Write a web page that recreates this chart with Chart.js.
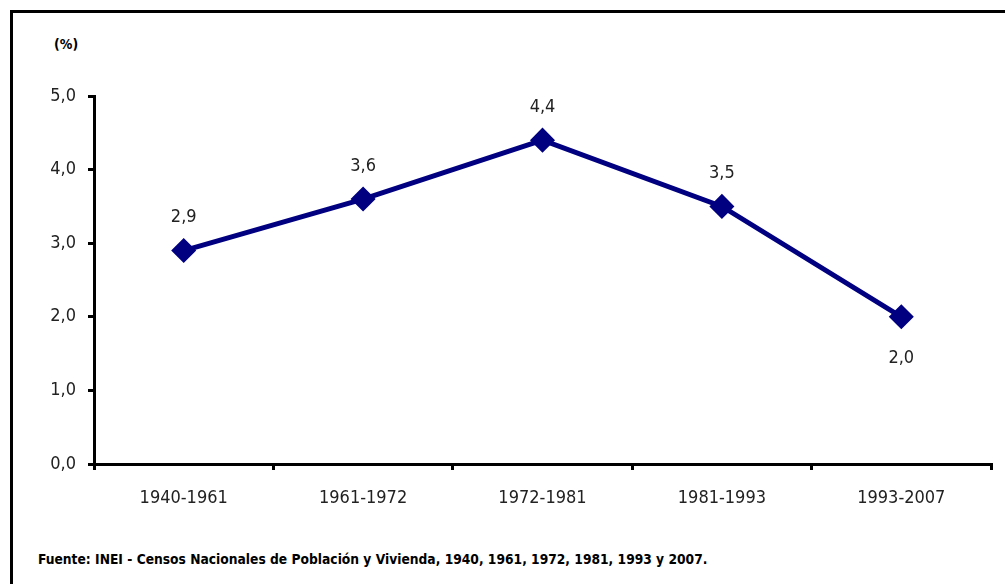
<!DOCTYPE html>
<html>
<head>
<meta charset="utf-8">
<script src="https://cdn.jsdelivr.net/npm/chart.js@4/dist/chart.umd.min.js"></script>
<style>
  html, body { margin: 0; padding: 0; background: #fff; }
  #wrap { position: relative; width: 1005px; height: 584px; }
  #frame { position: absolute; left: 10px; top: 10px; right: 0; bottom: -10px;
           border-left: 3px solid #000; border-top: 3px solid #000; }
  #unit { position: absolute; left: 54px; top: 36px; font: bold 14px "Liberation Sans Narrow", "DejaVu Sans Condensed", sans-serif; }
  #source { position: absolute; left: 38px; top: 551px; font: bold 13.7px "Liberation Sans Narrow", "DejaVu Sans Condensed", sans-serif; }
  canvas { position: absolute; left: 0; top: 0; }
</style>
</head>
<body>
<div id="wrap">
  <div id="frame"></div>
  <div id="unit">(%)</div>
  <div id="source">Fuente: INEI - Censos Nacionales de Población y Vivienda, 1940, 1961, 1972, 1981, 1993 y 2007.</div>
  <canvas id="chart" width="1005" height="584"></canvas>
</div>
<script>
// periodos intercensales y tasa de crecimiento (%)
const periodos = ['1940-1961', '1961-1972', '1972-1981', '1981-1993', '1993-2007'];
const tasas = [2.9, 3.6, 4.4, 3.5, 2.0];
const ticksY = [0, 1, 2, 3, 4, 5];

const fuente = '"Liberation Sans Narrow", "DejaVu Sans Condensed", sans-serif';
const coma = v => v.toFixed(1).replace('.', ',');

// etiquetas de valores sobre los puntos (la ultima va debajo)
const etiquetas = {
  id: 'etiquetas',
  afterDatasetsDraw(chart) {
    const ctx = chart.ctx;
    const meta = chart.getDatasetMeta(0);
    ctx.save();
    ctx.font = '18px ' + fuente;
    ctx.fillStyle = '#222';
    ctx.textAlign = 'center';
    ctx.textBaseline = 'middle';
    meta.data.forEach((p, i) => {
      const abajo = i === meta.data.length - 1;
      ctx.fillText(coma(tasas[i]), p.x, abajo ? p.y + 42 : p.y - 33);
    });
    ctx.restore();
  }
};

new Chart(document.getElementById('chart'), {
  type: 'line',
  data: {
    labels: periodos,
    datasets: [{
      data: tasas,
      borderColor: '#000080',
      backgroundColor: '#000080',
      borderWidth: 5,
      pointStyle: 'rectRot',
      pointRadius: 9,
      pointHoverRadius: 9,
      tension: 0
    }]
  },
  options: {
    responsive: false,
    animation: false,
    events: [],
    layout: { padding: { left: 0, right: 13, top: 96, bottom: 0 } },
    plugins: { legend: { display: false }, tooltip: { enabled: false } },
    scales: {
      x: {
        offset: true,
        grid: { offset: true, drawOnChartArea: false, color: '#000', lineWidth: 3, tickLength: 6 },
        border: { color: '#000', width: 3 },
        ticks: { color: '#222', font: { family: fuente, size: 18 }, padding: 18 },
        afterFit: s => { s.height = 120; }
      },
      y: {
        min: 0,
        max: 5,
        afterBuildTicks: s => { s.ticks = ticksY.map(v => ({ value: v })); },
        grid: { drawOnChartArea: false, color: '#000', lineWidth: 3, tickLength: 6 },
        border: { color: '#000', width: 3 },
        ticks: { color: '#222', font: { family: fuente, size: 18 }, padding: 12, callback: v => coma(v) },
        afterFit: s => { s.width = 94; }
      }
    }
  },
  plugins: [etiquetas]
});
</script>
</body>
</html>
